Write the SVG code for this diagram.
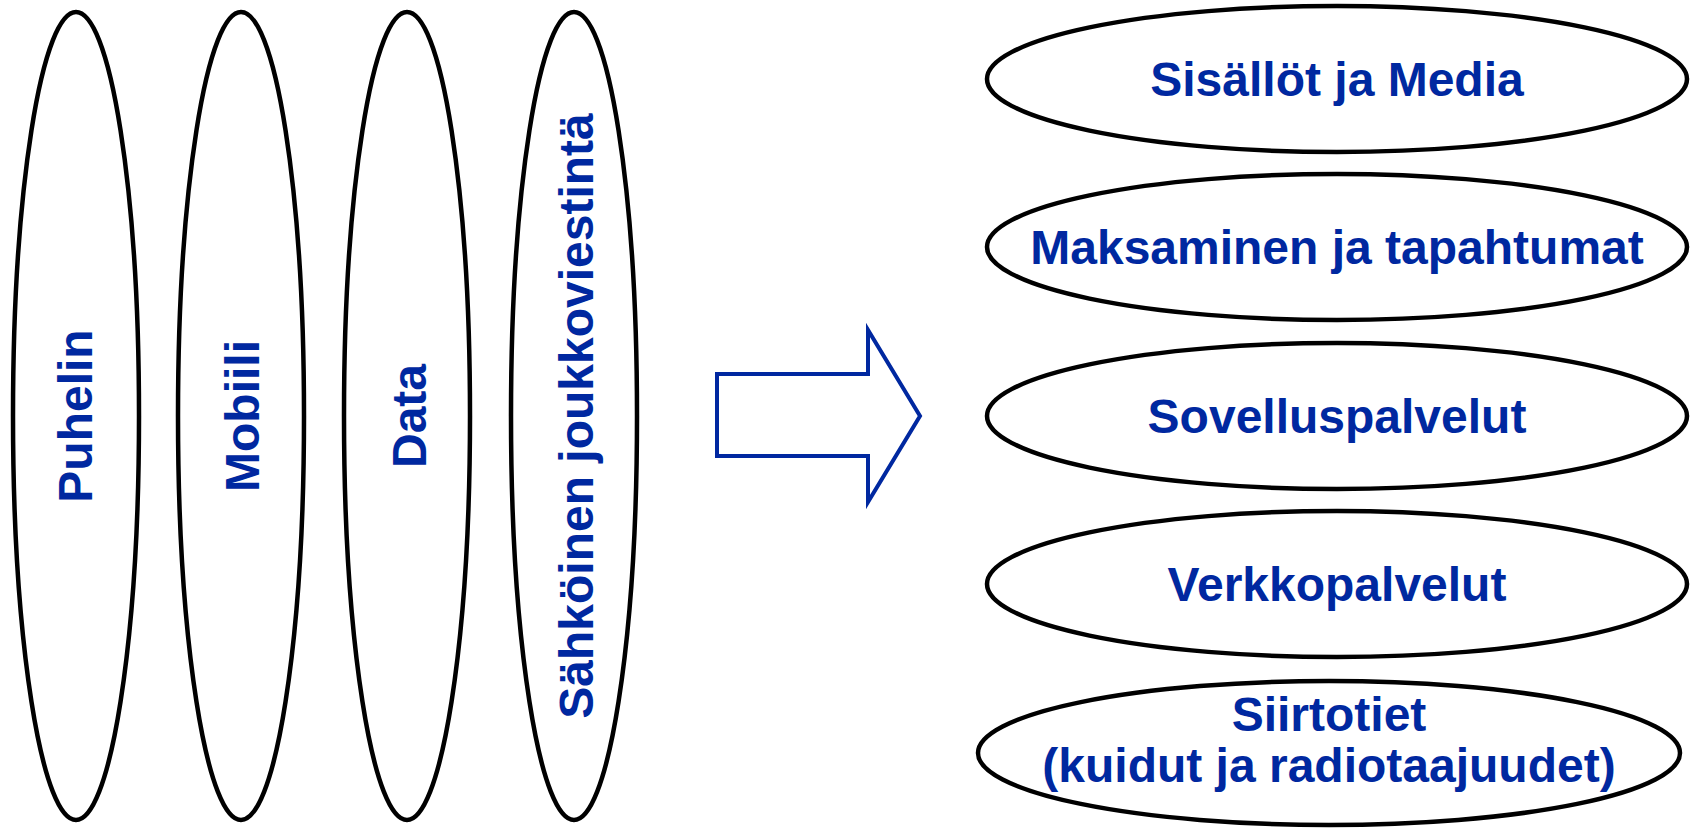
<svg xmlns="http://www.w3.org/2000/svg" width="1696" height="828" viewBox="0 0 1696 828">
<style>
.shape{fill:#ffffff;stroke:#000000;stroke-width:4.5}
.lbl{font-family:"Liberation Sans",Arial,sans-serif;font-weight:bold;font-size:48px;fill:#0028a0;text-anchor:middle}
.arrow{fill:#ffffff;stroke:#0028a0;stroke-width:4;stroke-linejoin:miter}
</style>
<rect width="1696" height="828" fill="#ffffff"/>
<g id="puhelin">
<ellipse class="shape" cx="76" cy="416" rx="63" ry="404"/>
<text class="lbl" transform="translate(92,416) rotate(-90)">Puhelin</text>
</g>
<g id="mobiili">
<ellipse class="shape" cx="241" cy="416" rx="63" ry="404"/>
<text class="lbl" transform="translate(259,416) rotate(-90)">Mobiili</text>
</g>
<g id="data">
<ellipse class="shape" cx="407" cy="416" rx="63" ry="404"/>
<text class="lbl" transform="translate(426,416) rotate(-90)">Data</text>
</g>
<g id="sahkoinen">
<ellipse class="shape" cx="574" cy="416" rx="63" ry="404"/>
<text class="lbl" transform="translate(593,416) rotate(-90)">Sähköinen joukkoviestintä</text>
</g>
<g id="connectors">
<path class="arrow" d="M717,374 H868 V330 L920,416 L868,502 V456 H717 Z"/>
</g>
<g id="sisallot">
<ellipse class="shape" cx="1337" cy="79" rx="350" ry="73"/>
<text class="lbl" x="1337" y="96">Sisällöt ja Media</text>
</g>
<g id="maksaminen">
<ellipse class="shape" cx="1337" cy="247" rx="350" ry="73"/>
<text class="lbl" x="1337" y="264">Maksaminen ja tapahtumat</text>
</g>
<g id="sovelluspalvelut">
<ellipse class="shape" cx="1337" cy="416" rx="350" ry="73"/>
<text class="lbl" x="1337" y="433">Sovelluspalvelut</text>
</g>
<g id="verkkopalvelut">
<ellipse class="shape" cx="1337" cy="584" rx="350" ry="73"/>
<text class="lbl" x="1337" y="601">Verkkopalvelut</text>
</g>
<g id="siirtotiet">
<ellipse class="shape" cx="1329" cy="753" rx="351" ry="72"/>
<text class="lbl" x="1329" y="731">Siirtotiet</text>
<text class="lbl" x="1329" y="782">(kuidut ja radiotaajuudet)</text>
</g>
</svg>
